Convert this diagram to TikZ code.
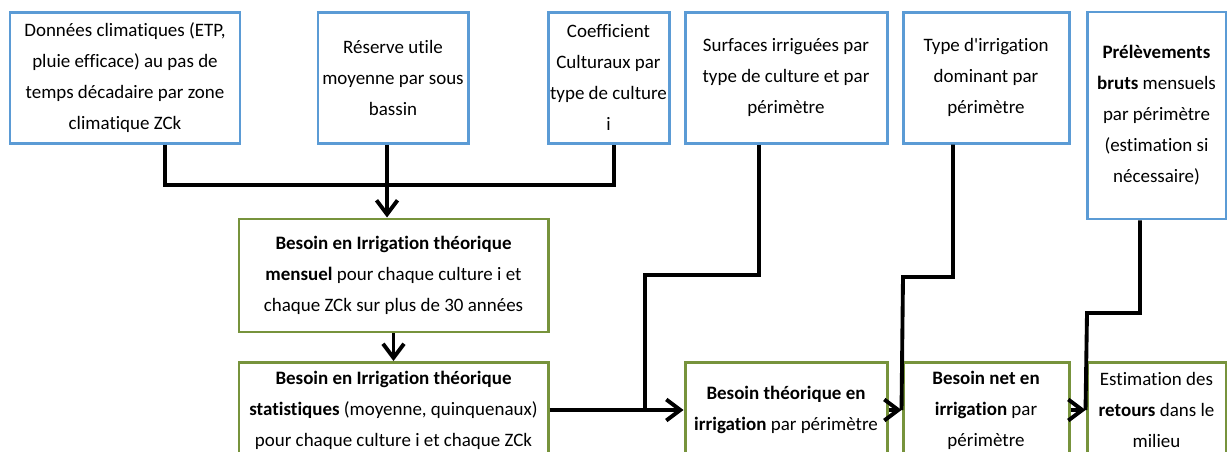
\documentclass[tikz,border=0pt]{standalone}
\usepackage{fontspec}
\setmainfont{Carlito}[Ligatures={TeX,NoCommon}]
\usetikzlibrary{arrows.meta}

\definecolor{bleubord}{RGB}{91,155,213}
\definecolor{vertbord}{RGB}{119,147,60}

\begin{document}
\begin{tikzpicture}[
        donnee/.style={draw=bleubord, line width=1.7pt, rectangle, fill=white, align=center, inner sep=1pt, font=\fontsize{10.8}{17.6}\selectfont},
        calcul/.style={donnee, draw=vertbord},
        lien/.style={line width=2.2pt},
        fleche/.style={lien, -{Straight Barb[length=0.28cm, width=0.42cm]}}
    ]
        
        % Cadre de la figure (coupe en bas)
        \useasboundingbox (0, 0) rectangle (24.54, -9.04);
        \clip (0, 0) rectangle (24.54, -9.04);
        
        % Donnees d'entree (haut)
        \node[donnee, minimum width=4.6cm, minimum height=2.62cm] (clim) at (2.5, -1.555) {Données climatiques (ETP,\\pluie efficace) au pas de\\temps décadaire  par zone\\climatique ZCk};
        \node[donnee, minimum width=3cm, minimum height=2.62cm] (reserve) at (7.86, -1.555) {Réserve utile\\moyenne par sous\\bassin};
        \node[donnee, minimum width=2.42cm, minimum height=2.62cm] (coef) at (12.17, -1.555) {Coefficient\\Culturaux par\\type de culture\\i};
        \node[donnee, minimum width=4.04cm, minimum height=2.62cm] (surf) at (15.72, -1.555) {Surfaces irriguées par\\type de culture et par\\périmètre};
        \node[donnee, minimum width=3.32cm, minimum height=2.62cm] (type) at (19.72, -1.555) {Type d\textquotesingle irrigation\\dominant par\\périmètre};
        \node[donnee, minimum width=2.78cm, minimum height=4.14cm] (prel) at (23.13, -2.31) {\textbf{Prélèvements}\\\textbf{bruts} mensuels\\par périmètre\\(estimation si\\nécessaire)};
        
        % Besoins calcules
        \node[calcul, minimum width=6.18cm, minimum height=2.26cm] (mens) at (7.87, -5.51) {\textbf{Besoin en Irrigation théorique}\\\textbf{mensuel} pour chaque culture i et\\chaque ZCk sur plus de 30 années};
        \node[calcul, minimum width=6.18cm, minimum height=1.9cm] (stat) at (7.87, -8.2) {\textbf{Besoin en Irrigation théorique}\\\textbf{statistiques} (moyenne, quinquenaux)\\pour chaque culture i et chaque ZCk};
        \node[calcul, minimum width=4.04cm, minimum height=1.9cm] (theo) at (15.72, -8.2) {\textbf{Besoin théorique en}\\\textbf{irrigation} par périmètre};
        \node[calcul, minimum width=3.32cm, minimum height=1.9cm] (net) at (19.72, -8.2) {\textbf{Besoin net en}\\\textbf{irrigation} par\\périmètre};
        \node[calcul, minimum width=2.78cm, minimum height=1.9cm] (ret) at (23.13, -8.2) {Estimation des\\\textbf{retours} dans le\\milieu};
        
        % Points de coude
        \coordinate (bend1) at (3.3, -3.7);
        \coordinate (bend3) at (12.28, -3.7);
        \coordinate (drop) at (7.74, -3.7);
        \coordinate (sb1) at (15.18, -5.5);
        \coordinate (sb2) at (12.9, -5.5);
        \coordinate (tb1) at (19.06, -5.54);
        \coordinate (tb2) at (18.06, -5.54);
        \coordinate (pb1) at (22.8, -6.26);
        \coordinate (pb2) at (21.74, -6.26);
        
        % Liens vers le besoin mensuel
        \draw[lien] (clim.south -| bend1) -- (bend1) -- (bend3) -- (coef.south -| bend3);
        \draw[fleche] (reserve.south -| drop) -- (mens.north -| drop);
        \draw[fleche] (mens.south) -- (stat.north);
        
        % Chaine par perimetre
        \draw[fleche] (stat.east) -- (theo.west);
        \draw[lien] (surf.south -| sb1) -- (sb1) -- (sb2) -- (sb2 |- theo.west);
        \draw[fleche] (theo.east) -- (net.west);
        \draw[lien] (type.south -| tb1) -- (tb1) -- (tb2) -- (net.west);
        \draw[fleche] (net.east) -- (ret.west);
        \draw[lien] (prel.south -| pb1) -- (pb1) -- (pb2) -- (ret.west);
        
    \end{tikzpicture}
\end{document}
